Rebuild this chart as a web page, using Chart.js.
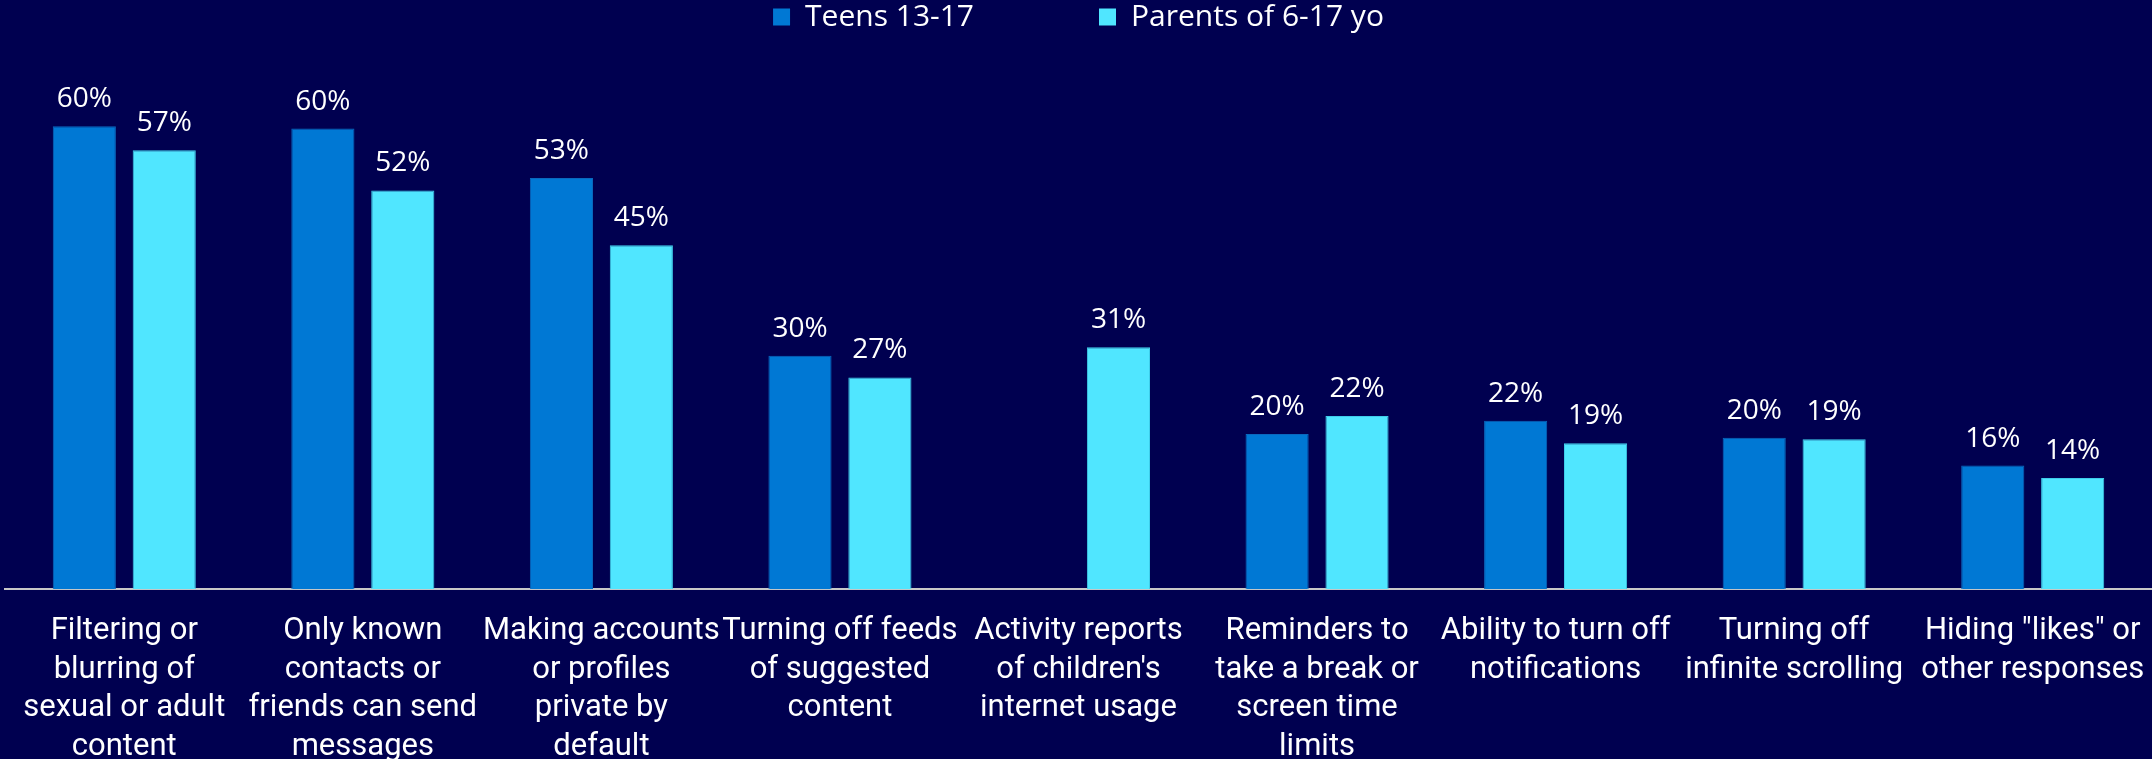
<!DOCTYPE html>
<html>
<head>
<meta charset="utf-8">
<script src="https://cdn.jsdelivr.net/npm/chart.js@4/dist/chart.umd.min.js"></script>
<style>
  html, body { margin: 0; padding: 0; background: #000050; }
  #wrap { width: 2152px; height: 759px; }
</style>
</head>
<body>
<div id="wrap"><canvas id="chart"></canvas></div>
<script>
// ── DATA ──

const categories = [
  ['Filtering or', 'blurring of', 'sexual or adult', 'content'],
  ['Only known', 'contacts or', 'friends can send', 'messages'],
  ['Making accounts', 'or profiles', 'private by', 'default'],
  ['Turning off feeds', 'of suggested', 'content'],
  ['Activity reports', "of children's", 'internet usage'],
  ['Reminders to', 'take a break or', 'screen time', 'limits'],
  ['Ability to turn off', 'notifications'],
  ['Turning off', 'infinite scrolling'],
  ['Hiding "likes" or', 'other responses'],
];

const teens = [59.9, 59.6, 53.2, 30.2, null, 20.1, 21.8, 19.6, 16.0];
const parents = [56.8, 51.6, 44.5, 27.4, 31.3, 22.4, 18.9, 19.4, 14.4];

const seriesNames = ['Teens 13-17', 'Parents of 6-17 yo'];

// ── STYLE ──

const BG = '#000050';
const TEENS = '#0078D4';
const PARENTS = '#50E6FF';

// valores em cima das barras
const valueLabels = {
  id: 'valueLabels',
  afterDatasetsDraw(chart) {
    const ctx = chart.ctx;
    ctx.save();
    ctx.fillStyle = '#ffffff';
    ctx.font = '28px "Open Sans", sans-serif';
    ctx.textAlign = 'center';
    ctx.textBaseline = 'alphabetic';
    chart.data.datasets.forEach((ds, i) => {
      const meta = chart.getDatasetMeta(i);
      meta.data.forEach((bar, j) => {
        const v = ds.data[j];
        if (v == null) return;
        ctx.fillText(Math.round(v) + '%', bar.x, bar.y - 19);
      });
    });
    ctx.restore();
  }
};

const bgFill = {
  id: 'bgFill',
  beforeDraw(chart) {
    const ctx = chart.ctx;
    ctx.save();
    ctx.fillStyle = BG;
    ctx.fillRect(0, 0, chart.width, chart.height);
    ctx.restore();
  }
};

new Chart(document.getElementById('chart'), {
  type: 'bar',
  data: {
    labels: categories,
    datasets: [
      {
        label: seriesNames[0],
        data: teens,
        backgroundColor: TEENS,
        borderColor: '#0a68bd',
        borderWidth: 1,
        categoryPercentage: 0.67,
        barPercentage: 0.79,
      },
      {
        label: seriesNames[1],
        data: parents,
        backgroundColor: PARENTS,
        borderColor: '#3fcdea',
        borderWidth: 1,
        categoryPercentage: 0.67,
        barPercentage: 0.79,
      }
    ]
  },
  options: {
    responsive: true,
    maintainAspectRatio: false,
    animation: false,
    // labels below overflow the canvas bottom in the reference
    layout: { padding: { left: 5, right: 0, top: 0, bottom: -7 } },
    plugins: {
      tooltip: { enabled: false },
      legend: {
        position: 'top',
        labels: {
          color: '#ffffff',
          font: { family: '"Open Sans", sans-serif', size: 30 },
          boxWidth: 17,
          boxHeight: 17,
          padding: 2,
          generateLabels(chart) {
            const items = Chart.defaults.plugins.legend.labels.generateLabels(chart);
            items.forEach(it => { it.lineWidth = 0; });
            items[0].text += '\u2003\u2003\u2003\u2003\u200a';
            return items;
          }
        }
      }
    },
    scales: {
      x: {
        // tick marks hidden; tickLength only spaces the labels from the axis
        grid: { display: false, drawTicks: true, tickLength: 23 },
        border: { display: true, color: '#c8c8c8', width: 2 },
        ticks: {
          color: '#ffffff',
          font: { family: 'Roboto, sans-serif', size: 31, lineHeight: 1.24 },
          padding: 0,
          maxRotation: 0,
          minRotation: 0,
          autoSkip: false,
        }
      },
      y: {
        display: false,
        min: 0,
        max: 70.8,
      }
    }
  },
  plugins: [bgFill, valueLabels]
});
</script>
</body>
</html>
